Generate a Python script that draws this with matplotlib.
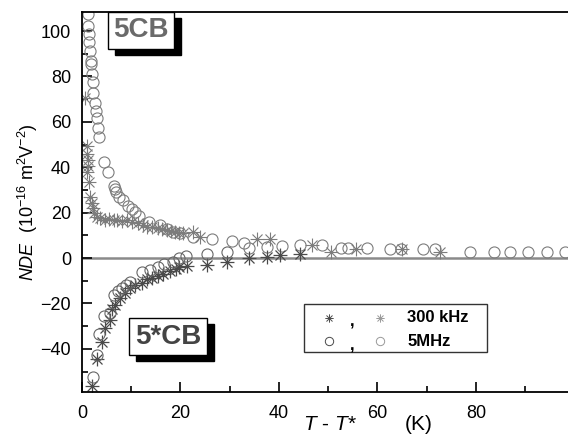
import matplotlib
matplotlib.use('Agg')
import matplotlib.pyplot as plt
import numpy as np
from matplotlib.path import Path
from matplotlib.lines import Line2D
from matplotlib.patches import Rectangle
from matplotlib.transforms import offset_copy

plt.rcParams.update({'font.family': 'Liberation Sans', 'font.size': 13,
                     'mathtext.fontset': 'custom',
                     'mathtext.rm': 'Liberation Sans',
                     'mathtext.it': 'Liberation Sans:italic'})

# 5CB, 300 kHz (asterisks, upper branch)
cb5_300_x = [0.6, 0.95, 1.1, 1.3, 1.3, 1.1, 1.5, 1.6, 2.0, 2.2, 2.4, 3.0, 3.7, 4.7, 5.5,
             6.4, 7.2, 8.1, 9.1, 10.2, 11.4, 12.3, 13.1, 14.3, 15.5, 16.3, 17.2, 18.0,
             18.9, 19.7, 20.6, 22.6, 24.0, 35.5, 38.2, 46.8, 50.6, 55.6, 64.9, 72.7]
cb5_300_y = [70.4, 49.3, 46.0, 43.4, 40.4, 37.9, 33.3, 27.1, 24.2, 22.0, 19.8, 18.3, 17.6,
             16.8, 17.0, 16.8, 16.6, 16.5, 16.8, 16.0, 15.3, 14.5, 13.9, 13.5, 13.1, 12.8,
             12.4, 12.0, 11.6, 11.2, 10.9, 11.6, 9.4, 8.5, 8.5, 5.7, 2.8, 3.8, 3.8, 2.8]

# 5CB, 5 MHz (circles, upper branch)
cb5_5m_x = [1.3, 1.3, 1.4, 1.4, 1.6, 1.8, 1.8, 2.0, 2.2, 2.3, 2.6, 2.8, 3.0, 3.3, 3.5,
            4.5, 5.3, 6.4, 6.7, 7.0, 7.6, 8.4, 9.4, 10.1, 10.8, 11.6, 13.7, 15.8, 17.2,
            18.5, 19.9, 22.6, 26.5, 30.4, 32.8, 34.0, 37.5, 40.7, 44.3, 48.7, 52.5, 54.1,
            57.8, 62.5, 64.7, 69.3, 71.6, 78.8, 83.7, 87.0, 90.6, 94.4, 98.1]
cb5_5m_y = [107.5, 102.4, 98.7, 95.0, 91.3, 86.9, 85.4, 81.0, 77.6, 72.9, 68.5, 64.7, 61.8,
            57.4, 53.4, 42.3, 37.9, 31.9, 30.4, 28.9, 27.1, 25.4, 23.0, 21.5, 20.5, 18.6,
            16.1, 14.6, 12.7, 11.6, 11.2, 9.4, 8.4, 7.5, 6.5, 4.3, 4.7, 5.5, 5.7, 5.7,
            4.6, 4.6, 4.6, 4.0, 4.0, 3.8, 3.8, 2.8, 2.5, 2.5, 2.5, 2.5, 2.5]

# 5*CB, 300 kHz (asterisks, lower branch)
cbs_300_x = [2.0, 3.1, 4.0, 4.7, 5.7, 6.0, 6.7, 7.7, 8.7, 9.7, 10.8, 12.1, 13.1, 14.2,
             15.5, 16.5, 17.9, 19.1, 19.8, 21.3, 25.3, 29.4, 34.0, 37.5, 40.2, 44.3]
cbs_300_y = [-56.5, -44.4, -37.0, -30.7, -27.4, -22.3, -20.8, -17.8, -15.6, -13.4, -11.9,
             -10.9, -9.4, -8.6, -8.0, -6.8, -5.6, -5.0, -3.8, -3.5, -3.0, -1.6, -0.1, 0.3,
             1.3, 2.0]

# 5*CB, 5 MHz (circles, lower branch)
cbs_5m_x = [2.2, 3.1, 3.5, 4.5, 5.7, 6.4, 7.4, 8.1, 8.9, 9.7, 12.1, 13.8, 15.4, 16.6,
            18.5, 19.6, 21.1, 25.3, 29.4]
cbs_5m_y = [-52.5, -42.9, -33.3, -25.7, -24.2, -16.4, -14.5, -13.4, -11.9, -10.5, -6.3,
            -5.3, -3.8, -2.4, -1.6, -0.1, 0.9, 1.8, 2.8]

# asterisk marker: + and x combined
star = Path([(-1, 0), (1, 0), (0, -1), (0, 1), (-.72, -.72), (.72, .72), (-.72, .72), (.72, -.72)],
            [Path.MOVETO, Path.LINETO] * 4)

fig = plt.figure(figsize=(5.68, 4.34), dpi=100)
ax = fig.add_axes([82/568, 42/434, 486/568, 380/434])

ax.axhline(0, color='#8a8a8a', lw=1.8, zorder=1)

light = '#7c7c7c'
dark = '#4a4a4a'
ax.plot(cb5_300_x, cb5_300_y, ls='none', marker=star, ms=10, mew=0.8, color=light, mfc='none')
ax.plot(cb5_5m_x, cb5_5m_y, ls='none', marker='o', ms=8, mew=0.8, color=light, mfc='none')
ax.plot(cbs_300_x, cbs_300_y, ls='none', marker=star, ms=10, mew=0.9, color=dark, mfc='none')
ax.plot(cbs_5m_x, cbs_5m_y, ls='none', marker='o', ms=8, mew=0.8, color='#666666', mfc='none')

ax.set_xlim(0, 98.7)
ax.set_ylim(-59, 108.4)
ax.set_xticks([0, 20, 40, 60, 80])
ax.set_yticks([-40, -20, 0, 20, 40, 60, 80, 100])
ax.set_xticks(np.arange(10, 100, 20), minor=True)
ax.set_yticks(np.arange(-50, 110, 20), minor=True)
ax.tick_params(which='both', direction='in', width=1.2)
ax.tick_params(which='major', length=7)
ax.tick_params(which='minor', length=4)
ax.tick_params(axis='x', pad=9)
ax.tick_params(axis='y', pad=8)
for s in ax.spines.values():
    s.set_linewidth(1.3)
ax.spines['right'].set_visible(False)

ax.set_ylabel(r'$NDE$  (10$^{-16}$ m$^2$V$^{-2}$)', fontsize=13, labelpad=0)
fig.text(303/568, 1 - 424/434, r'$T$ - $T$*', fontsize=15, ha='left', va='center')
fig.text(405/568, 1 - 425/434, '(K)', fontsize=15, ha='left', va='center')

# sample labels with drop shadow
for lab, x, y, col in [('5CB', 12.0, 100.4, '#6a6a6a'), ('5*CB', 17.5, -34.7, '#444444')]:
    sh = offset_copy(ax.transData, fig=fig, x=7, y=-6, units='dots')
    ax.text(x, y, lab, transform=sh, fontsize=20, fontweight='bold', color='black',
            ha='center', va='center', zorder=4,
            bbox=dict(boxstyle='square,pad=0.2', fc='black', ec='black'))
    ax.text(x, y, lab, fontsize=20, fontweight='bold', color=col,
            ha='center', va='center', zorder=5,
            bbox=dict(boxstyle='square,pad=0.2', fc='white', ec='black', lw=1))

# legend box
ax.add_patch(Rectangle((0.457, 0.105), 0.376, 0.127, transform=ax.transAxes,
                       fc='white', ec='#333333', lw=1, zorder=6))
for row, mk, lab in [(0.195, star, '300 kHz'), (0.134, 'o', '5MHz')]:
    ax.add_line(Line2D([0.508], [row], transform=ax.transAxes, ls='none', marker=mk, ms=6,
                       mew=0.7, color=dark, mfc='none', zorder=7))
    ax.text(0.556, row - 0.012, ',', transform=ax.transAxes, fontsize=12, fontweight='bold',
            ha='center', va='center', zorder=7)
    ax.add_line(Line2D([0.613], [row], transform=ax.transAxes, ls='none', marker=mk, ms=6,
                       mew=0.7, color='#999999', mfc='none', zorder=7))
    ax.text(0.669, row, lab, transform=ax.transAxes, fontsize=12, fontweight='bold',
            ha='left', va='center', zorder=7)

fig.savefig('out.png', dpi=100)
